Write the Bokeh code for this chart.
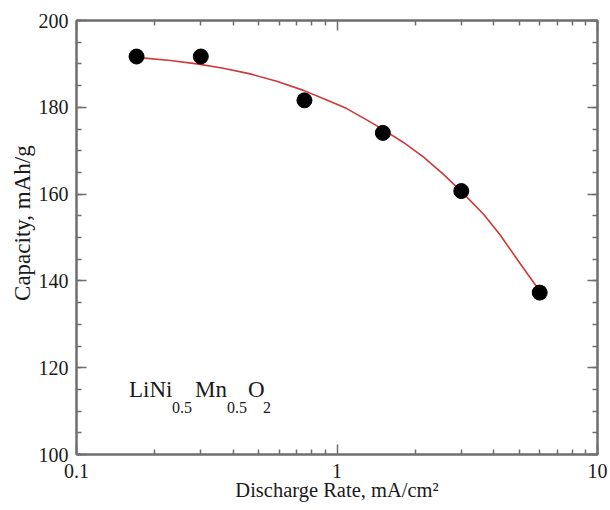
from bokeh.plotting import figure
from bokeh.models import (Range1d, LogAxis, LinearAxis, FixedTicker, SingleIntervalTicker,
                          ColumnDataSource, CustomJSTickFormatter)
from bokeh.core.properties import value
from bokeh.embed import file_html
from bokeh.resources import INLINE

# Measured discharge capacity at each rate
rate = [0.17, 0.3, 0.75, 1.5, 3.0, 6.0]
capacity = [191.7, 191.7, 181.6, 174.1, 160.7, 137.3]

# Trend curve through the measurements
fit_rate = [0.17, 0.229, 0.29, 0.366, 0.464, 0.587, 0.744, 0.914, 1.09, 1.30,
            1.51, 1.80, 2.15, 2.57, 3.06, 3.66, 4.24, 5.06, 5.87, 6.0]
fit_capacity = [191.5, 190.8, 190.0, 189.0, 187.7, 186.0, 183.9, 181.7, 179.7, 177.1,
                174.8, 171.9, 168.5, 164.5, 160.1, 155.3, 150.5, 143.9, 138.5, 137.7]

# Axis ticks
x_major = [0.1, 1, 10]
x_minor = [0.2, 0.3, 0.4, 0.5, 0.6, 0.7, 0.8, 0.9, 2, 3, 4, 5, 6, 7, 8, 9]
y_interval = 20

# Axis titles (leading no-break spaces nudge the rotated y title upward)
x_title = "Discharge Rate, mA/cm²"
y_title = "\u00a0" * 5 + "Capacity, mAh/g"

# Compound label pieces: main text and subscripts
formula_parts = ["LiNi", "0.5", "Mn", "0.5", "O", "2"]
formula_dx = [0, 43, 66, 98, 119, 134]
formula_dy = [0, 18, 0, 18, 0, 18]
formula_size = ["23px", "16px", "23px", "16px", "23px", "16px"]

FONT = "Liberation Serif"
FRAME = "#6e6e6e"
TEXT = "#1a1a1a"

p = figure(width=610, height=510, x_axis_type="log",
           x_range=Range1d(0.1, 10), y_range=Range1d(100, 200),
           output_backend="svg", toolbar_location=None,
           min_border_left=76, min_border_right=13,
           min_border_top=20, min_border_bottom=56)
p.background_fill_color = "white"
p.border_fill_color = "white"
p.outline_line_color = FRAME
p.outline_line_width = 2
p.grid.visible = False

blank = CustomJSTickFormatter(code="return ''")
plain = CustomJSTickFormatter(code="return String(Number(tick.toPrecision(6)))")


def style_axis(ax, show_labels):
    ax.axis_line_color = FRAME
    ax.axis_line_width = 2
    ax.major_tick_line_color = FRAME
    ax.minor_tick_line_color = FRAME
    ax.major_tick_line_width = 1.5
    ax.minor_tick_line_width = 1.5
    ax.major_tick_in = 10
    ax.major_tick_out = 0
    ax.minor_tick_in = 5
    ax.minor_tick_out = 0
    ax.major_label_text_font = FONT
    ax.major_label_text_color = TEXT
    ax.major_label_text_font_size = "20px"
    if show_labels:
        ax.major_label_standoff = 8
    else:
        ax.formatter = blank
        ax.major_label_standoff = 0


xa = p.xaxis[0]
xa.ticker = FixedTicker(ticks=x_major, minor_ticks=x_minor)
xa.formatter = plain
style_axis(xa, True)
xa.major_label_standoff = 9
xa.axis_label = x_title
xa.axis_label_text_font = FONT
xa.axis_label_text_font_size = "20.5px"
xa.axis_label_text_font_style = "normal"
xa.axis_label_text_color = TEXT
xa.axis_label_standoff = -2

ya = p.yaxis[0]
ya.ticker = SingleIntervalTicker(interval=y_interval, num_minor_ticks=4)
style_axis(ya, True)
ya.axis_label = y_title
ya.axis_label_text_font = FONT
ya.axis_label_text_font_size = "23px"
ya.axis_label_text_font_style = "normal"
ya.axis_label_text_color = TEXT
ya.axis_label_standoff = 1

top = LogAxis(ticker=FixedTicker(ticks=x_major, minor_ticks=x_minor))
style_axis(top, False)
p.add_layout(top, "above")

right = LinearAxis(ticker=SingleIntervalTicker(interval=y_interval, num_minor_ticks=4))
style_axis(right, False)
p.add_layout(right, "right")

p.line(fit_rate, fit_capacity, line_color="#d0383a", line_width=1.6)
p.scatter(rate, capacity, size=15, fill_color="black", line_color="black")

src = ColumnDataSource(dict(
    x=[0.159] * len(formula_parts), y=[115.0] * len(formula_parts),
    text=formula_parts, dx=formula_dx, dy=formula_dy, size=formula_size))
p.text(x="x", y="y", text="text", x_offset="dx", y_offset="dy",
       text_font_size="size", text_font=value(FONT), text_color=TEXT,
       text_align="left", text_baseline="alphabetic", source=src)

open("out.html", "w").write(file_html(p, INLINE))
